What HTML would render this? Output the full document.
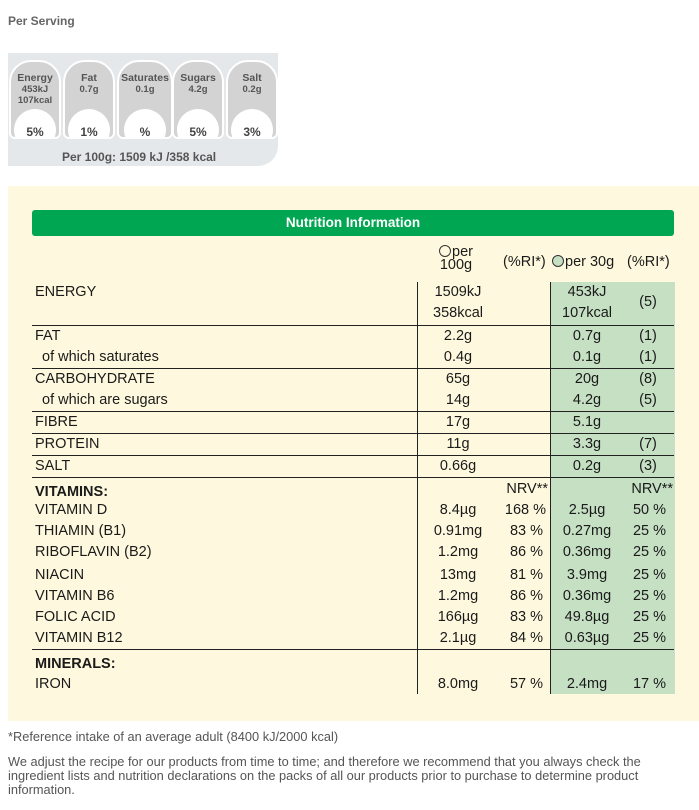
<!DOCTYPE html>
<html><head><meta charset="utf-8"><style>
*{margin:0;padding:0;box-sizing:border-box}
body{width:699px;height:810px;background:#fff;position:relative;overflow:hidden;font-family:"Liberation Sans",sans-serif;color:#1a1a1a}
.a{position:absolute;white-space:nowrap;font-size:14.5px;line-height:18px;height:18px}
.c{transform:translateX(-50%)}
.r{transform:translateX(-100%)}
.hl{position:absolute;left:32px;width:642px;height:1px;background:#222}
.vl{position:absolute;width:1px;background:#222}
.pill{position:absolute;top:60px;height:79px;width:52px;background:#d3d3d3;border:2px solid #fff;border-radius:22px 22px 6px 6px;text-align:center;font-size:9.5px;font-weight:bold;color:#555;overflow:hidden}
.pill b{display:block;font-size:10.5px;margin-top:10px;color:#555}
.pill .w{position:absolute;left:50%;top:47px;width:42px;height:42px;margin-left:-21px;border-radius:50%;background:#fff;font-size:12px;line-height:28px;padding-top:9px;color:#444}
.ft{position:absolute;left:8px;font-size:12.8px;color:#555;white-space:nowrap;line-height:14px}
.o{display:inline-block;width:12px;height:12px;border:1px solid #333;border-radius:50%;vertical-align:-1px;margin-right:1px}
</style></head><body>
<div class="a" style="left:8px;top:12px;font-size:12px;font-weight:bold;color:#666">Per Serving</div>
<div style="position:absolute;left:8px;top:53px;width:270px;height:113px;background:#e4e8ea;border-radius:0 0 20px 0"></div>
<div class="pill" style="left:9px"><b>Energy</b>453kJ<br>107kcal<div class="w">5%</div></div>
<div class="pill" style="left:63px"><b>Fat</b>0.7g<div class="w">1%</div></div>
<div class="pill" style="left:117px;width:56px"><b>Saturates</b>0.1g<div class="w">%</div></div>
<div class="pill" style="left:172px"><b>Sugars</b>4.2g<div class="w">5%</div></div>
<div class="pill" style="left:226px"><b>Salt</b>0.2g<div class="w">3%</div></div>
<div class="a" style="left:62px;top:148px;font-size:12px;font-weight:bold;color:#555">Per 100g: 1509 kJ /358 kcal</div>

<div style="position:absolute;left:8px;top:186px;width:691px;height:535px;background:#fef9de"></div>
<div style="position:absolute;left:32px;top:210px;width:642px;height:26px;background:#00a651;border-radius:3px;color:#fff;font-weight:bold;font-size:13.5px;text-align:center;line-height:26px">Nutrition Information</div>
<div style="position:absolute;left:550px;top:282px;width:125px;height:412px;background:#c6e0c4"></div>

<div class="a" style="left:439px;top:245px;line-height:13px;height:26px;text-align:center"><span class="o"></span>per<br>100g</div>
<div class="a" style="left:503px;top:253px">(%RI*)</div>
<div class="a" style="left:552px;top:253px"><span class="o" style="background:#c6e0c4"></span>per 30g</div>
<div class="a" style="left:627px;top:253px">(%RI*)</div>

<div class="hl" style="top:325px"></div><div class="hl" style="top:368px"></div><div class="hl" style="top:411px"></div>
<div class="hl" style="top:433px"></div><div class="hl" style="top:455px"></div><div class="hl" style="top:477px"></div>
<div class="hl" style="top:649px"></div>
<div class="vl" style="left:417px;top:282px;height:412px"></div>
<div class="vl" style="left:550px;top:282px;height:412px"></div>

<div class="a" style="left:35px;top:283px">ENERGY</div>
<div class="a c" style="left:458px;top:283px">1509kJ</div>
<div class="a c" style="left:458px;top:304px">358kcal</div>
<div class="a c" style="left:587px;top:283px">453kJ</div>
<div class="a c" style="left:587px;top:304px">107kcal</div>
<div class="a c" style="left:648px;top:293px">(5)</div>

<div class="a" style="left:35px;top:327px">FAT</div><div class="a c" style="left:458px;top:327px">2.2g</div><div class="a c" style="left:587px;top:327px">0.7g</div><div class="a c" style="left:648px;top:327px">(1)</div>
<div class="a" style="left:42px;top:348px">of which saturates</div><div class="a c" style="left:458px;top:348px">0.4g</div><div class="a c" style="left:587px;top:348px">0.1g</div><div class="a c" style="left:648px;top:348px">(1)</div>
<div class="a" style="left:35px;top:370px">CARBOHYDRATE</div><div class="a c" style="left:458px;top:370px">65g</div><div class="a c" style="left:587px;top:370px">20g</div><div class="a c" style="left:648px;top:370px">(8)</div>
<div class="a" style="left:42px;top:391px">of which are sugars</div><div class="a c" style="left:458px;top:391px">14g</div><div class="a c" style="left:587px;top:391px">4.2g</div><div class="a c" style="left:648px;top:391px">(5)</div>
<div class="a" style="left:35px;top:413px">FIBRE</div><div class="a c" style="left:458px;top:413px">17g</div><div class="a c" style="left:587px;top:413px">5.1g</div>
<div class="a" style="left:35px;top:435px">PROTEIN</div><div class="a c" style="left:458px;top:435px">11g</div><div class="a c" style="left:587px;top:435px">3.3g</div><div class="a c" style="left:648px;top:435px">(7)</div>
<div class="a" style="left:35px;top:457px">SALT</div><div class="a c" style="left:458px;top:457px">0.66g</div><div class="a c" style="left:587px;top:457px">0.2g</div><div class="a c" style="left:648px;top:457px">(3)</div>

<div class="a" style="left:35px;top:483px;font-weight:bold">VITAMINS:</div>
<div class="a r" style="left:548px;top:480px">NRV**</div><div class="a r" style="left:673px;top:480px">NRV**</div>

<div class="a" style="left:35px;top:501px">VITAMIN D</div><div class="a c" style="left:458px;top:501px">8.4µg</div><div class="a r" style="left:546px;top:501px">168 %</div><div class="a c" style="left:587px;top:501px">2.5µg</div><div class="a r" style="left:666px;top:501px">50 %</div>
<div class="a" style="left:35px;top:522px">THIAMIN (B1)</div><div class="a c" style="left:458px;top:522px">0.91mg</div><div class="a r" style="left:543px;top:522px">83 %</div><div class="a c" style="left:587px;top:522px">0.27mg</div><div class="a r" style="left:666px;top:522px">25 %</div>
<div class="a" style="left:35px;top:543px">RIBOFLAVIN (B2)</div><div class="a c" style="left:458px;top:543px">1.2mg</div><div class="a r" style="left:543px;top:543px">86 %</div><div class="a c" style="left:587px;top:543px">0.36mg</div><div class="a r" style="left:666px;top:543px">25 %</div>
<div class="a" style="left:35px;top:566px">NIACIN</div><div class="a c" style="left:458px;top:566px">13mg</div><div class="a r" style="left:543px;top:566px">81 %</div><div class="a c" style="left:587px;top:566px">3.9mg</div><div class="a r" style="left:666px;top:566px">25 %</div>
<div class="a" style="left:35px;top:587px">VITAMIN B6</div><div class="a c" style="left:458px;top:587px">1.2mg</div><div class="a r" style="left:543px;top:587px">86 %</div><div class="a c" style="left:587px;top:587px">0.36mg</div><div class="a r" style="left:666px;top:587px">25 %</div>
<div class="a" style="left:35px;top:608px">FOLIC ACID</div><div class="a c" style="left:458px;top:608px">166µg</div><div class="a r" style="left:543px;top:608px">83 %</div><div class="a c" style="left:587px;top:608px">49.8µg</div><div class="a r" style="left:666px;top:608px">25 %</div>
<div class="a" style="left:35px;top:629px">VITAMIN B12</div><div class="a c" style="left:458px;top:629px">2.1µg</div><div class="a r" style="left:543px;top:629px">84 %</div><div class="a c" style="left:587px;top:629px">0.63µg</div><div class="a r" style="left:666px;top:629px">25 %</div>

<div class="a" style="left:35px;top:655px;font-weight:bold">MINERALS:</div>
<div class="a" style="left:35px;top:675px">IRON</div><div class="a c" style="left:458px;top:675px">8.0mg</div><div class="a r" style="left:543px;top:675px">57 %</div><div class="a c" style="left:587px;top:675px">2.4mg</div><div class="a r" style="left:666px;top:675px">17 %</div>

<div class="ft" style="top:730px">*Reference intake of an average adult (8400 kJ/2000 kcal)</div>
<div class="ft" style="top:755px">We adjust the recipe for our products from time to time; and therefore we recommend that you always check the</div>
<div class="ft" style="top:769px">ingredient lists and nutrition declarations on the packs of all our products prior to purchase to determine product</div>
<div class="ft" style="top:783px">information.</div>
</body></html>
